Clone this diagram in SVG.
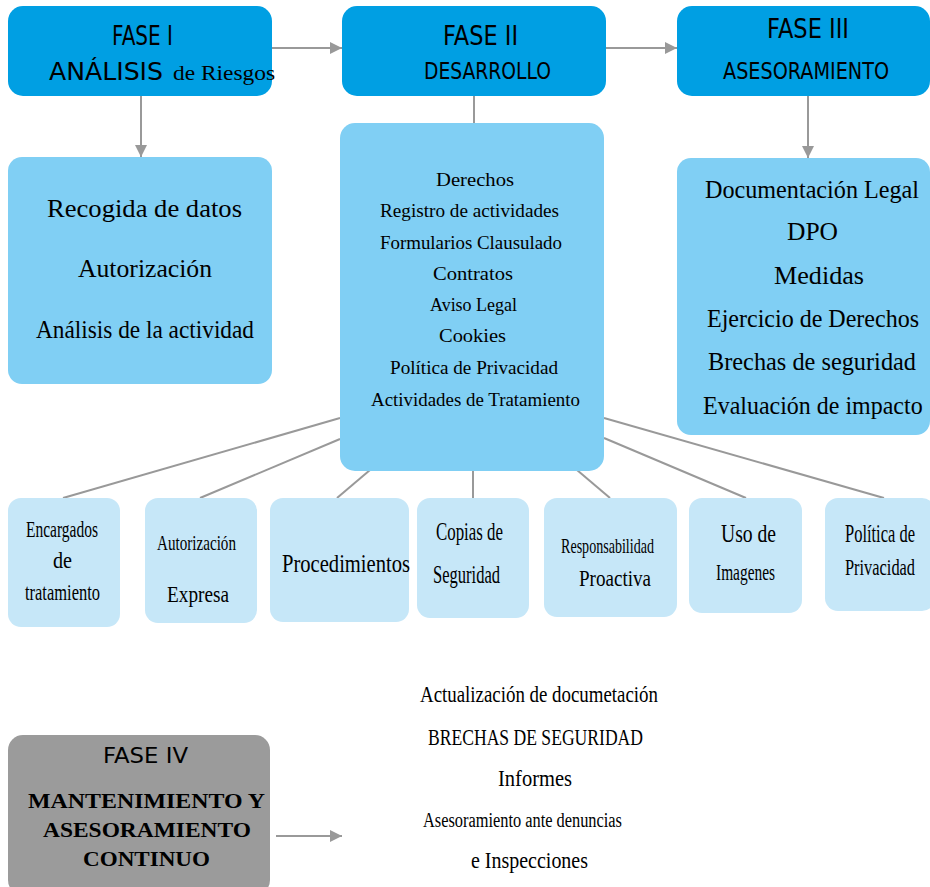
<svg xmlns="http://www.w3.org/2000/svg" width="930" height="887" viewBox="0 0 930 887">
<defs>
<marker id="arr" markerUnits="userSpaceOnUse" markerWidth="14" markerHeight="14" refX="12" refY="6" orient="auto">
<path d="M0,0 L12,6 L0,12 z" fill="#999999"/>
</marker>
<style>
.phase{fill:#009FE3}
.mid{fill:#80CFF4}
.light{fill:#C6E7F8}
.gray{fill:#9B9B9B}
.line{stroke:#999999;stroke-width:2;fill:none}
.sans{font-family:"DejaVu Sans","Liberation Sans",sans-serif;fill:#000}
.serif{font-family:"Liberation Serif","Times New Roman",serif;fill:#000}
text{text-anchor:start}
</style>
</defs>
<rect width="930" height="887" fill="#ffffff"/>

<g id="connectors">
<line class="line" x1="270" y1="48" x2="342" y2="48" marker-end="url(#arr)"/>
<line class="line" x1="604" y1="48" x2="677" y2="48" marker-end="url(#arr)"/>
<line class="line" x1="141" y1="96" x2="141" y2="157" marker-end="url(#arr)"/>
<line class="line" x1="808" y1="96" x2="808" y2="158" marker-end="url(#arr)"/>
<line class="line" x1="474" y1="96" x2="474" y2="124"/>
<line class="line" x1="340" y1="418" x2="63" y2="498"/>
<line class="line" x1="340" y1="439" x2="200" y2="498"/>
<line class="line" x1="370" y1="470" x2="337" y2="498"/>
<line class="line" x1="473" y1="470" x2="473" y2="498"/>
<line class="line" x1="577" y1="470" x2="610" y2="498"/>
<line class="line" x1="604" y1="438" x2="746" y2="498"/>
<line class="line" x1="604" y1="418" x2="884" y2="498"/>
<line class="line" x1="276" y1="836" x2="342" y2="836" marker-end="url(#arr)"/>
</g>

<g id="fase1">
<rect class="phase" x="8" y="6" width="264" height="90" rx="15"/>
<text class="sans" x="112" y="45" font-size="27" textLength="61" lengthAdjust="spacingAndGlyphs">FASE I</text>
<text class="sans" x="49" y="80" font-size="24" textLength="114" lengthAdjust="spacingAndGlyphs">ANÁLISIS</text>
<text class="serif" x="173" y="80" font-size="21" textLength="102" lengthAdjust="spacingAndGlyphs">de Riesgos</text>
</g>

<g id="fase2">
<rect class="phase" x="342" y="6" width="264" height="90" rx="15"/>
<text class="sans" x="443" y="45" font-size="27" textLength="75" lengthAdjust="spacingAndGlyphs">FASE  II</text>
<text class="sans" x="424" y="79" font-size="23" textLength="127" lengthAdjust="spacingAndGlyphs">DESARROLLO</text>
</g>

<g id="fase3">
<rect class="phase" x="677" y="6" width="253" height="90" rx="15"/>
<text class="sans" x="767" y="38" font-size="27" textLength="82" lengthAdjust="spacingAndGlyphs">FASE  III</text>
<text class="sans" x="723" y="79" font-size="23" textLength="166" lengthAdjust="spacingAndGlyphs">ASESORAMIENTO</text>
</g>

<g id="analisis-items">
<rect class="mid" x="8" y="157" width="264" height="227" rx="14"/>
<text class="serif" x="47" y="217" font-size="25" textLength="195" lengthAdjust="spacingAndGlyphs">Recogida de datos</text>
<text class="serif" x="78" y="277" font-size="25" textLength="134" lengthAdjust="spacingAndGlyphs">Autorización</text>
<text class="serif" x="36" y="338" font-size="25" textLength="218" lengthAdjust="spacingAndGlyphs">Análisis de la actividad</text>
</g>

<g id="desarrollo-items">
<rect class="mid" x="340" y="123" width="264" height="348" rx="15"/>
<text class="serif" x="436" y="186" font-size="19" textLength="78" lengthAdjust="spacingAndGlyphs">Derechos</text>
<text class="serif" x="380" y="217" font-size="19" textLength="179" lengthAdjust="spacingAndGlyphs">Registro de actividades</text>
<text class="serif" x="380" y="249" font-size="19" textLength="182" lengthAdjust="spacingAndGlyphs">Formularios Clausulado</text>
<text class="serif" x="433" y="280" font-size="19" textLength="80" lengthAdjust="spacingAndGlyphs">Contratos</text>
<text class="serif" x="430" y="311" font-size="19" textLength="87" lengthAdjust="spacingAndGlyphs">Aviso Legal</text>
<text class="serif" x="439" y="342" font-size="19" textLength="67" lengthAdjust="spacingAndGlyphs">Cookies</text>
<text class="serif" x="390" y="374" font-size="19" textLength="168" lengthAdjust="spacingAndGlyphs">Política de Privacidad</text>
<text class="serif" x="371" y="406" font-size="19" textLength="209" lengthAdjust="spacingAndGlyphs">Actividades de Tratamiento</text>
</g>

<g id="asesoramiento-items">
<rect class="mid" x="677" y="158" width="253" height="277" rx="14"/>
<text class="serif" x="705" y="198" font-size="25" textLength="214" lengthAdjust="spacingAndGlyphs">Documentación Legal</text>
<text class="serif" x="787" y="240" font-size="25" textLength="51" lengthAdjust="spacingAndGlyphs">DPO</text>
<text class="serif" x="774" y="284" font-size="25" textLength="90" lengthAdjust="spacingAndGlyphs">Medidas</text>
<text class="serif" x="707" y="327" font-size="25" textLength="212" lengthAdjust="spacingAndGlyphs">Ejercicio de Derechos</text>
<text class="serif" x="708" y="370" font-size="25" textLength="208" lengthAdjust="spacingAndGlyphs">Brechas de seguridad</text>
<text class="serif" transform="translate(703,414) scale(0.955,1)" font-size="25" textLength="230" lengthAdjust="spacingAndGlyphs">Evaluación de impacto</text>
</g>

<g id="encargados">
<rect class="light" x="8" y="498" width="112" height="129" rx="13"/>
<text class="serif" x="26" y="537" font-size="24" textLength="72" lengthAdjust="spacingAndGlyphs">Encargados</text>
<text class="serif" x="53" y="568" font-size="24" textLength="19" lengthAdjust="spacingAndGlyphs">de</text>
<text class="serif" x="25" y="600" font-size="24" textLength="75" lengthAdjust="spacingAndGlyphs">tratamiento</text>
</g>

<g id="autorizacion-expresa">
<rect class="light" x="145" y="498" width="112" height="125" rx="13"/>
<text class="serif" x="157" y="550" font-size="22" textLength="79" lengthAdjust="spacingAndGlyphs">Autorización</text>
<text class="serif" x="167" y="602" font-size="24" textLength="62" lengthAdjust="spacingAndGlyphs">Expresa</text>
</g>

<g id="procedimientos">
<rect class="light" x="270" y="498" width="139" height="124" rx="13"/>
<text class="serif" x="282" y="572" font-size="25" textLength="128" lengthAdjust="spacingAndGlyphs">Procedimientos</text>
</g>

<g id="copias">
<rect class="light" x="417" y="498" width="112" height="120" rx="13"/>
<text class="serif" x="436" y="540" font-size="25" textLength="67" lengthAdjust="spacingAndGlyphs">Copias de</text>
<text class="serif" x="433" y="583" font-size="25" textLength="67" lengthAdjust="spacingAndGlyphs">Seguridad</text>
</g>

<g id="responsabilidad">
<rect class="light" x="544" y="498" width="133" height="119" rx="13"/>
<text class="serif" x="561" y="553" font-size="22" textLength="93" lengthAdjust="spacingAndGlyphs">Responsabilidad</text>
<text class="serif" x="579" y="586" font-size="24" textLength="72" lengthAdjust="spacingAndGlyphs">Proactiva</text>
</g>

<g id="imagenes">
<rect class="light" x="689" y="498" width="113" height="115" rx="13"/>
<text class="serif" x="721" y="542" font-size="25" textLength="55" lengthAdjust="spacingAndGlyphs">Uso de</text>
<text class="serif" x="716" y="580" font-size="24" textLength="59" lengthAdjust="spacingAndGlyphs">Imagenes</text>
</g>

<g id="politica">
<rect class="light" x="825" y="498" width="110" height="113" rx="13"/>
<text class="serif" transform="translate(845,542) scale(0.66,1)" font-size="25" textLength="106" lengthAdjust="spacingAndGlyphs">Política de</text>
<text class="serif" transform="translate(845,575) scale(0.68,1)" font-size="24" textLength="103" lengthAdjust="spacingAndGlyphs">Privacidad</text>
</g>

<g id="fase4">
<rect class="gray" x="8" y="735" width="262" height="160" rx="15"/>
<text class="sans" x="103" y="763" font-size="22" textLength="85" lengthAdjust="spacingAndGlyphs">FASE  IV</text>
<text class="serif" x="28" y="808" font-size="22" font-weight="bold" textLength="237" lengthAdjust="spacingAndGlyphs">MANTENIMIENTO Y</text>
<text class="serif" x="43" y="837" font-size="22" font-weight="bold" textLength="208" lengthAdjust="spacingAndGlyphs">ASESORAMIENTO</text>
<text class="serif" x="83" y="866" font-size="22" font-weight="bold" textLength="127" lengthAdjust="spacingAndGlyphs">CONTINUO</text>
</g>

<g id="mantenimiento-items">
<text class="serif" x="420" y="702" font-size="24" textLength="238" lengthAdjust="spacingAndGlyphs">Actualización de documetación</text>
<text class="serif" x="428" y="745" font-size="23" textLength="215" lengthAdjust="spacingAndGlyphs">BRECHAS DE SEGURIDAD</text>
<text class="serif" x="498" y="786" font-size="23" textLength="74" lengthAdjust="spacingAndGlyphs">Informes</text>
<text class="serif" x="423" y="827" font-size="20" textLength="199" lengthAdjust="spacingAndGlyphs">Asesoramiento ante denuncias</text>
<text class="serif" x="471" y="868" font-size="23" textLength="117" lengthAdjust="spacingAndGlyphs">e Inspecciones</text>
</g>
</svg>
